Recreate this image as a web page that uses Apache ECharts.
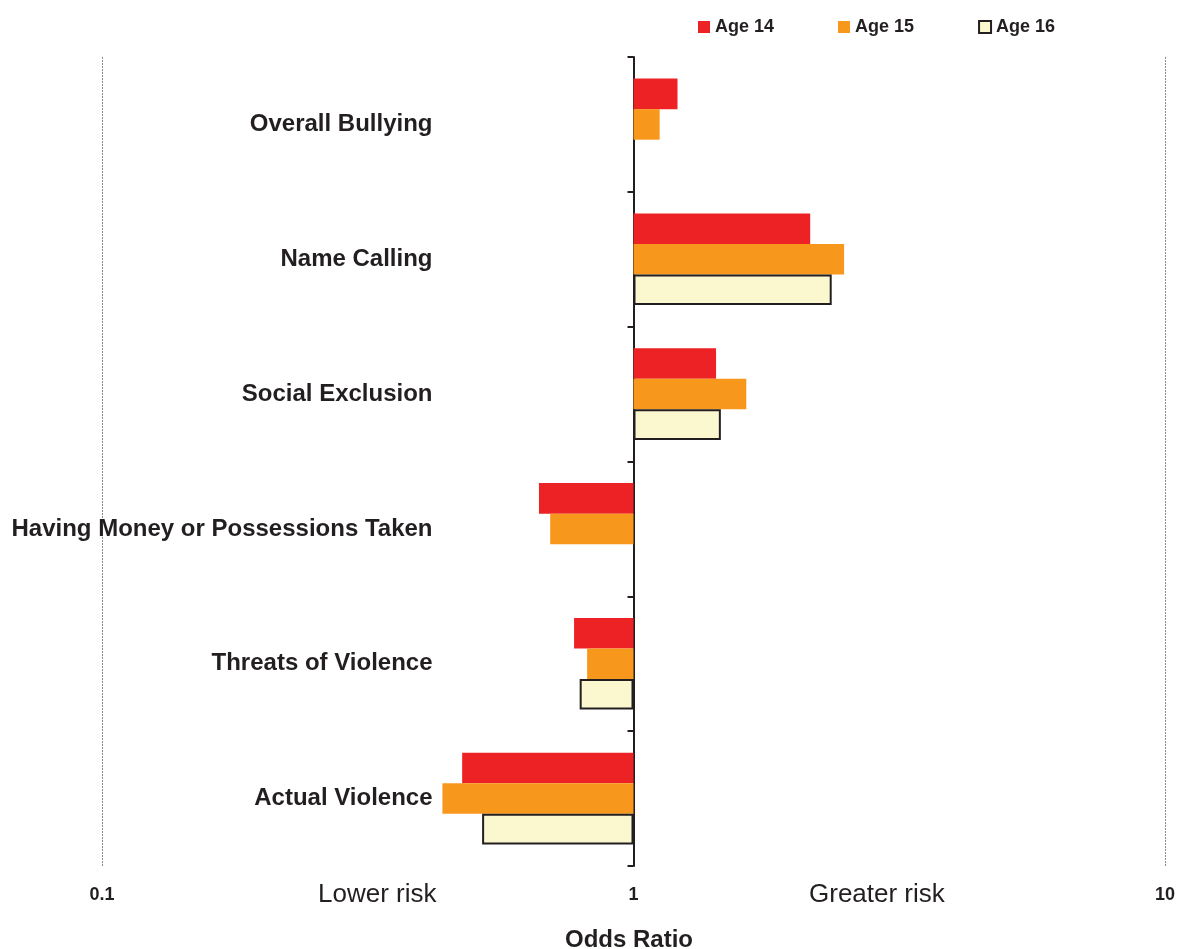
<!DOCTYPE html>
<html>
<head>
<meta charset="utf-8">
<script src="https://cdn.jsdelivr.net/npm/echarts@6/dist/echarts.min.js"></script>
<style>
  html, body { margin: 0; padding: 0; background: #ffffff; }
  #chart { width: 1181px; height: 949px; }
</style>
</head>
<body>
<div id="chart"></div>
<script>
// Bullying type, top to bottom
const categories = [
  'Overall Bullying',
  'Name Calling',
  'Social Exclusion',
  'Having Money or Possessions Taken',
  'Threats of Violence',
  'Actual Violence'
];

// Odds ratios per age (null = not reported)
const age14 = [1.21, 2.15, 1.43, 0.664, 0.773, 0.476];
const age15 = [1.12, 2.49, 1.63, 0.697, 0.818, 0.437];
const age16 = [null, 2.36, 1.46, null, 0.792, 0.519];

const seriesNames = ['Age 14', 'Age 15', 'Age 16'];
const xTicks = [0.1, 1, 10];

const FONT = "'Liberation Sans', Arial, Helvetica, sans-serif";
const INK = '#231F20';

const chart = echarts.init(document.getElementById('chart'), null, { renderer: 'canvas' });

const gridLeft = 102;
const gridRight = 16;
const gridWidth = 1181 - gridLeft - gridRight;

function barSeries(name, data, style) {
  return {
    name: name,
    type: 'bar',
    data: data,
    barGap: '0%',
    barCategoryGap: '32%',
    itemStyle: style,
    emphasis: { disabled: true },
    silent: true
  };
}

chart.setOption({
  animation: false,
  backgroundColor: '#ffffff',
  textStyle: { fontFamily: FONT, color: INK },
  legend: {
    left: 693,
    top: 13,
    itemWidth: 12,
    itemHeight: 12,
    itemGap: 64,
    icon: 'rect',
    selectedMode: false,
    data: seriesNames,
    textStyle: {
      fontFamily: FONT,
      fontSize: 18,
      fontWeight: 'bold',
      color: INK
    }
  },
  grid: {
    left: gridLeft,
    right: gridRight,
    top: 57,
    bottom: 83,
    containLabel: false,
    outerBoundsMode: 'none'
  },
  xAxis: {
    type: 'log',
    logBase: 10,
    min: 0.1,
    max: 10,
    name: 'Odds Ratio',
    nameLocation: 'middle',
    nameGap: 62,
    nameTextStyle: {
      fontFamily: FONT, fontSize: 24, fontWeight: 'bold', color: INK,
      padding: [0, 9, 0, 0]
    },
    axisLine: { show: false, onZero: false },
    axisTick: { show: false },
    axisLabel: {
      margin: 20,
      fontFamily: FONT,
      fontSize: 18,
      fontWeight: 'bold',
      color: INK,
      formatter: function (v) {
        const t = xTicks.find(function (k) { return Math.abs(k - v) < 1e-9; });
        return t === undefined ? '' : String(t);
      }
    },
    splitLine: {
      show: true,
      lineStyle: { color: '#8a8a8a', type: [2, 1], width: 1 }
    }
  },
  yAxis: {
    type: 'category',
    inverse: true,
    data: categories,
    offset: -gridWidth / 2,
    axisLine: { show: true, onZero: false, lineStyle: { color: INK, width: 2 } },
    axisTick: { show: true, length: 6, inside: false, lineStyle: { color: INK, width: 2 } },
    axisLabel: {
      margin: 201,
      fontFamily: FONT,
      fontSize: 24,
      fontWeight: 'bold',
      color: INK
    },
    splitLine: { show: false }
  },
  graphic: [
    {
      type: 'text',
      left: 318,
      top: 882,
      style: { text: 'Lower risk', fontFamily: FONT, fontSize: 26, fill: INK }
    },
    {
      type: 'text',
      left: 809,
      top: 882,
      style: { text: 'Greater risk', fontFamily: FONT, fontSize: 26, fill: INK }
    }
  ],
  series: [
    barSeries(seriesNames[0], age14, { color: '#ED2224' }),
    barSeries(seriesNames[1], age15, { color: '#F7981D' }),
    barSeries(seriesNames[2], age16, { color: '#FBF8D0', borderColor: INK, borderWidth: 2 })
  ]
});
</script>
</body>
</html>
